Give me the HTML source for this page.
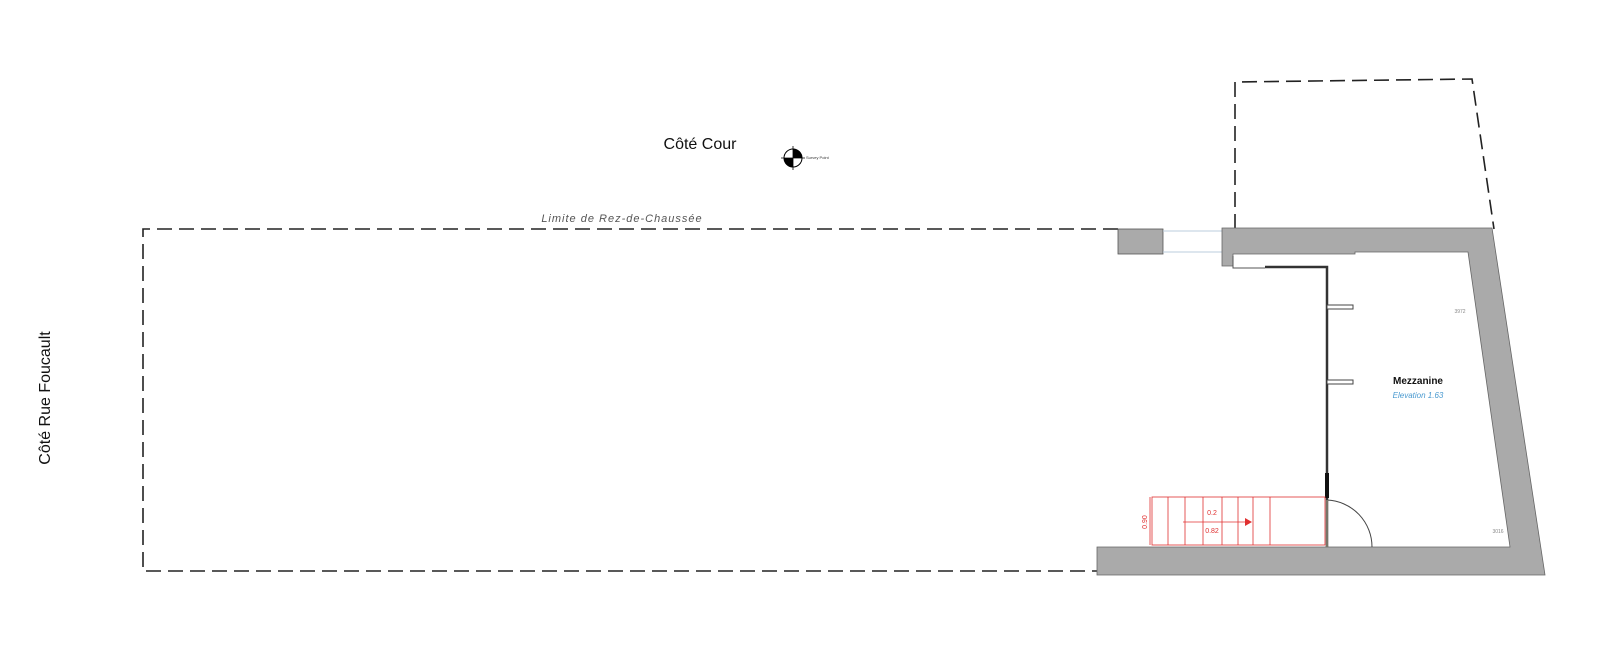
<!DOCTYPE html>
<html><head><meta charset="utf-8"><style>
html,body{margin:0;padding:0;background:#fff;width:1600px;height:650px;overflow:hidden}
svg{display:block}
</style></head><body>
<svg width="1600" height="650" viewBox="0 0 1600 650" xmlns="http://www.w3.org/2000/svg" font-family="Liberation Sans, sans-serif">
<!-- left dashed limit -->
<path d="M1118 229 L143 229 L143 571 L1097 571" fill="none" stroke="#222" stroke-width="1.6" stroke-dasharray="15 7"/>
<!-- top right dashed -->
<path d="M1235 229 L1235 82 L1472 79 L1494 229" fill="none" stroke="#222" stroke-width="1.6" stroke-dasharray="15 7"/>
<!-- small block -->
<rect x="1118" y="229" width="45" height="25" fill="#aaa" stroke="#555" stroke-width="0.8"/>
<line x1="1163" y1="231" x2="1222" y2="231" stroke="#bcd" stroke-width="1"/>
<line x1="1163" y1="252" x2="1222" y2="252" stroke="#bcd" stroke-width="1"/>
<!-- main gray wall -->
<path d="M1222 228 L1492 228 L1545 575 L1097 575 L1097 547 L1510 547 L1468 252 L1355 252 L1355 254 L1233 254 L1233 266 L1222 266 Z" fill="#aaa" stroke="#666" stroke-width="0.8"/>
<path d="M1233 256 L1233 268 L1265 268" fill="none" stroke="#555" stroke-width="1"/>
<!-- interior wall -->
<path d="M1265 267 L1327 267 L1327 547" fill="none" stroke="#333" stroke-width="2.5"/>
<rect x="1325" y="473" width="4" height="25" fill="#111"/>
<rect x="1327" y="305" width="26" height="4" fill="#fff" stroke="#444" stroke-width="1"/>
<rect x="1327" y="380" width="26" height="4" fill="#fff" stroke="#444" stroke-width="1"/>
<!-- stair -->
<g stroke="#e03030" stroke-width="0.8" fill="none">
<rect x="1152" y="497" width="173" height="48"/>
<line x1="1168" y1="497" x2="1168" y2="545"/><line x1="1185" y1="497" x2="1185" y2="545"/>
<line x1="1203" y1="497" x2="1203" y2="545"/><line x1="1222" y1="497" x2="1222" y2="545"/>
<line x1="1238" y1="497" x2="1238" y2="545"/><line x1="1253" y1="497" x2="1253" y2="545"/>
<line x1="1270" y1="497" x2="1270" y2="545"/>
<line x1="1183" y1="522" x2="1245" y2="522"/>
<line x1="1150" y1="497" x2="1150" y2="545"/>
</g>
<path d="M1245 518 L1252 522 L1245 526 Z" fill="#e03030"/>
<text x="1212" y="515" font-size="7" fill="#e03030" text-anchor="middle">0.2</text>
<text x="1212" y="533" font-size="7" fill="#e03030" text-anchor="middle">0.82</text>
<text x="1147" y="522" font-size="7" fill="#e03030" text-anchor="middle" transform="rotate(-90 1147 522)">0.90</text>
<!-- door -->
<path d="M1327 500 A47 47 0 0 1 1372 547" fill="none" stroke="#444" stroke-width="1"/>
<line x1="1327" y1="500" x2="1327" y2="547" stroke="#ddb" stroke-width="0.8"/>
<!-- labels -->
<text x="1418" y="384" font-size="10" font-weight="bold" text-anchor="middle" fill="#111">Mezzanine</text>
<text x="1418" y="398" font-size="8" font-style="italic" text-anchor="middle" fill="#4a9ad0">Elevation 1.63</text>
<text x="1460" y="313" font-size="5" fill="#888" text-anchor="middle">3972</text>
<text x="1498" y="533" font-size="5" fill="#888" text-anchor="middle">3016</text>
<text x="700" y="149" font-size="16" text-anchor="middle" fill="#111">Côté Cour</text>
<circle cx="793" cy="158" r="9" fill="#fff" stroke="#000" stroke-width="1"/>
<path d="M793 158 L802 158 A9 9 0 0 0 793 149 Z" fill="#000"/>
<path d="M793 158 L784 158 A9 9 0 0 0 793 167 Z" fill="#000"/>
<line x1="781" y1="158" x2="805" y2="158" stroke="#000" stroke-width="0.8"/>
<line x1="793" y1="146" x2="793" y2="170" stroke="#000" stroke-width="0.8"/>
<text x="806" y="159" font-size="4" fill="#333">Survey Point</text>
<text x="622" y="222" font-size="11" font-style="italic" text-anchor="middle" fill="#555" letter-spacing="1">Limite de Rez-de-Chaussée</text>
<text x="0" y="0" font-size="16" text-anchor="middle" fill="#111" transform="translate(50 398) rotate(-90)">Côté Rue Foucault</text>
</svg>
</body></html>
